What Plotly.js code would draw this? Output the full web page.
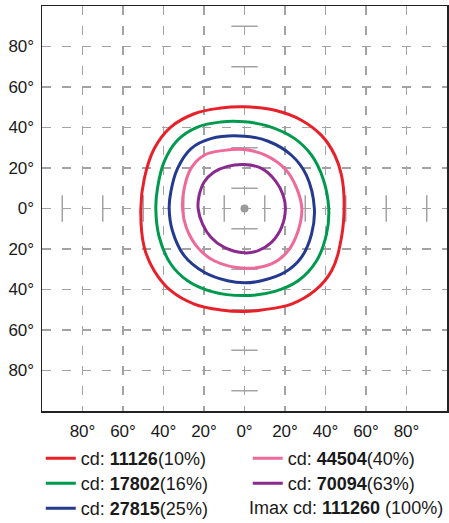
<!DOCTYPE html>
<html>
<head>
<meta charset="utf-8">
<script src="https://cdn.plot.ly/plotly-3.0.1.min.js"></script>
<style>html,body{margin:0;padding:0;background:#fff;}#chart{width:449px;height:523px;}</style>
</head>
<body>
<div id="chart"></div>
<script>
// Tick values and labels (degrees)
const tickVals = [-80, -60, -40, -20, 0, 20, 40, 60, 80];
const tickText = ['80°', '60°', '40°', '20°', '0°', '20°', '40°', '60°', '80°'];

// Reference marks along the 0° axes
const markAngles = [-90, -70, -50, -30, -10, 10, 30, 50, 70, 90];
const markHalfLen = 6.5;

// Isocandela curves (x = horizontal angle, y = vertical angle, degrees)
const redX = [0, 15, 28.1, 38, 44.6, 47.9, 49.2, 47.9, 43, 34.7, 23.2, 8.4, 0, -11.7, -24.8, -36.4, -44.6, -49.5, -51.2, -49.5, -44.6, -36.4, -24.8, -11.7, 0];
const redY = [50.2, 48.5, 43.6, 36.1, 26.3, 16.4, 3.2, -14.2, -30.7, -40.6, -47.2, -50.1, -50.9, -50.1, -47.2, -40.6, -30.7, -19.2, 0, 14.7, 29.5, 40.2, 46.8, 49.6, 50.2];

const greenX = [0, 11.7, 24.8, 33.1, 38.8, 41.6, 40.5, 35.6, 26.5, 15, 0, -16.6, -28.1, -36.4, -42.1, -43.8, -43, -39.7, -33.1, -23.2, -11.7, 0];
const greenY = [42.8, 40.7, 34.5, 26.3, 14.7, 0, -12.6, -25.8, -35.7, -40.9, -43, -40.9, -35.7, -27.4, -14.2, 0, 9.8, 23, 33.7, 40.2, 42.7, 42.8];

const blueX = [0, 11.7, 23.2, 30.6, 34.5, 33.1, 28.1, 19.9, 8.4, 0, -8.4, -19.9, -29.8, -35.6, -37.2, -36.4, -33.1, -26.5, -16.6, 0];
const blueY = [35.7, 33.2, 26.3, 16.4, 0, -12.6, -24.1, -31.5, -35.7, -36.7, -35.7, -31.5, -23.3, -11, 0, 8.1, 19.7, 29.5, 34.5, 35.7];

const pinkX = [0, 10, 20.3, 25.7, 28.3, 26.5, 21.6, 13.3, 0, -15, -23.2, -28.8, -30.6, -29.8, -26.5, -19.9, -10, 0];
const pinkY = [29.1, 26.5, 19.3, 10.2, 0, -11, -20.8, -27.4, -29.5, -25.8, -19.2, -9.3, 0, 9.8, 19.7, 26.3, 28.7, 29.1];

const purpleX = [0, 8.4, 15.2, 19.1, 20.2, 18.3, 13.3, 6.8, 0, -10, -16.6, -20.7, -22.9, -22.4, -19.9, -15, -8.4, 0];
const purpleY = [21.7, 19.8, 13.8, 6.6, 0, -9.3, -16.7, -20.8, -21.9, -19.2, -14.2, -7.7, 0, 6.5, 13.1, 18, 20.8, 21.7];

// Legend labels
const curveNames = [
  'cd: <b>11126</b>(10%)',
  'cd: <b>17802</b>(16%)',
  'cd: <b>27815</b>(25%)',
  'cd: <b>44504</b>(40%)',
  'cd: <b>70094</b>(63%)'
];
const imaxLabel = 'Imax cd: <b>111260</b> (100%)';

const colors = ['#e8202a', '#009a4e', '#243a8f', '#ef6a9a', '#8a2a8f'];
const xs = [redX, greenX, blueX, pinkX, purpleX];
const ys = [redY, greenY, blueY, pinkY, purpleY];

// legend slot of each curve: [column, row]
const legendSlots = [[0, 0], [0, 1], [0, 2], [1, 0], [1, 1]];
const legendColX = [-0.003, 0.508];
const legendRowY = [-0.0716, -0.1333, -0.1951];

const gridColor = '#a3a3a3';

// Build reference-mark segments
const mX = [], mY = [];
markAngles.forEach(a => {
  mX.push(-markHalfLen, markHalfLen, null); mY.push(a, a, null);
  mX.push(a, a, null); mY.push(-markHalfLen, markHalfLen, null);
});

const traces = [{
  x: mX, y: mY, mode: 'lines', type: 'scatter',
  line: {color: gridColor, width: 1.5}, showlegend: false, hoverinfo: 'skip'
}, {
  x: [0], y: [0], mode: 'markers', type: 'scatter',
  marker: {color: '#9a9a9a', size: 8}, showlegend: false, hoverinfo: 'skip'
}];

const legendCommon = {
  orientation: 'v', xanchor: 'left', yanchor: 'top',
  traceorder: 'normal', font: {size: 18, color: '#1a1a1a'},
  itemclick: false, tracegroupgap: 0, bgcolor: 'rgba(0,0,0,0)', borderwidth: 0
};

const layout = {
  width: 449, height: 523,
  margin: {l: 42, r: 2, t: 6, b: 112, autoexpand: false},
  paper_bgcolor: '#fff', plot_bgcolor: '#fff',
  font: {family: 'Liberation Sans, Arial, sans-serif', size: 18, color: '#1a1a1a'},
  showlegend: true,
  annotations: [{
    xref: 'paper', yref: 'paper', x: 0.505, y: -0.2395, xanchor: 'left', yanchor: 'middle',
    text: imaxLabel, showarrow: false, font: {size: 18, color: '#1a1a1a'}
  }]
};

for (let i = 0; i < 5; i++) {
  const id = i === 0 ? 'legend' : 'legend' + (i + 1);
  traces.push({
    x: xs[i], y: ys[i], mode: 'lines', type: 'scatter',
    name: curveNames[i], legend: id,
    line: {color: colors[i], width: 3, shape: 'spline', smoothing: 1.15}
  });
  layout[id] = Object.assign({}, legendCommon, {
    x: legendColX[legendSlots[i][0]], y: legendRowY[legendSlots[i][1]]
  });
}

const axisCommon = {
  range: [-100, 100],
  tickvals: tickVals, ticktext: tickText,
  showgrid: true, gridcolor: gridColor, gridwidth: 1.5, griddash: '9px,11px',
  zeroline: false, showline: true, mirror: true, linecolor: '#222', linewidth: 1.5,
  ticks: '', fixedrange: true,
  tickfont: {size: 17, color: '#1a1a1a'}
};
layout.xaxis = Object.assign({}, axisCommon, {ticklabelstandoff: 4});
layout.yaxis = Object.assign({}, axisCommon, {ticklabelstandoff: 3});

Plotly.newPlot('chart', traces, layout, {staticPlot: true, displayModeBar: false});
</script>
</body>
</html>
